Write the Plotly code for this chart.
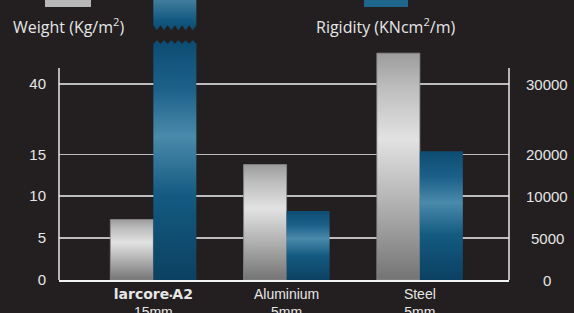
import plotly.graph_objects as go

# ---------------- data ----------------
categories = ["larcore A2 15mm", "Aluminium 5mm", "Steel 5mm"]
category_labels = [
    "<span style='font-family:DejaVu Sans;font-weight:bold'>larcore</span>"
    "<span style='font-size:9px'>\u2022</span>"
    "<span style='font-family:DejaVu Sans;font-weight:bold'>A2</span><br>15mm",
    "Aluminium<br>5mm",
    "Steel<br>5mm",
]
weight = [7.2, 13.8, 50.9]            # Kg/m2 (left axis)
rigidity = [36200, 8200, 20500]       # KNcm2/m (right axis), first bar is broken (off scale)
rigidity_broken = [True, False, False]
weight_ticks = [0, 5, 10, 15, 40]
rigidity_ticks = [0, 5000, 10000, 20000, 30000]

# ---------------- broken (piecewise) scale ----------------
tick_levels = [0, 42, 84, 125.3, 196]   # display position of each tick (axis is not linear)
Y_TOP = 280                              # top of display range
X_RANGE = [-0.708, 2.669]


def to_display(v, ticks):
    for i in range(1, len(ticks)):
        if v <= ticks[i] or i == len(ticks) - 1:
            a, b = ticks[i - 1], ticks[i]
            ya, yb = tick_levels[i - 1], tick_levels[i]
            return ya + (v - a) * (yb - ya) / (b - a)


# helpers converting pixel positions to paper coords
def px(X):
    return (X - 59) / 450


def py(Y):
    return (280 - Y) / Y_TOP


BG = "#231f20"
TXT = "#e6e6e6"
HALF = 0.3227
silver_scale = [[0, "#747474"], [0.35, "#b4b4b4"], [0.62, "#e2e2e2"], [0.85, "#bdbdbd"], [1, "#9c9c9c"]]
blue_scale = [[0, "#0b4162"], [0.35, "#145a80"], [0.6, "#4a8aab"], [0.8, "#1c6088"], [1, "#0d4c72"]]


def zigzag(x0, x1, y_valley, y_tip, n=6):
    xs, ys = [], []
    for j in range(2 * n + 1):
        xs.append(x0 + (x1 - x0) * j / (2 * n))
        ys.append(y_valley if j % 2 == 0 else y_tip)
    return xs, ys


fig = go.Figure()

for i, cat in enumerate(categories):
    # weight bar (silver, left of centre)
    h = to_display(weight[i], weight_ticks)
    x0, x1 = i - HALF, i
    fig.add_trace(go.Scatter(
        x=[x0, x0, x1, x1, x0], y=[0, h, h, 0, 0], mode="lines", fill="toself",
        line=dict(color="#8c8c8c", width=0.8),
        fillgradient=dict(type="vertical", colorscale=silver_scale, start=0, stop=h),
        name="Weight (Kg/m²)", showlegend=False, hoverinfo="skip"))

    # rigidity bar (blue, right of centre)
    h = to_display(rigidity[i], rigidity_ticks)
    x0, x1 = i, i + HALF
    if rigidity_broken[i]:
        zx, zy = zigzag(x0, x1, h - 3.5, h)
        xs = [x0] + zx + [x1, x0]
        ys = [0] + zy + [0, 0]
        fig.add_trace(go.Scatter(
            x=xs, y=ys, mode="lines", fill="toself", line=dict(width=0),
            fillgradient=dict(type="vertical", colorscale=blue_scale, start=0, stop=h),
            showlegend=False, hoverinfo="skip"))
        # upper part of the broken bar
        lo = h + 10
        zx, zy = zigzag(x0, x1, lo + 5, lo, n=6)
        xs = [x0, x0, x1, x1] + zx[::-1]
        ys = [lo + 5, Y_TOP + 10, Y_TOP + 10, lo + 5] + zy[::-1]
        fig.add_trace(go.Scatter(
            x=xs, y=ys, mode="lines", fill="toself", line=dict(width=0),
            fillgradient=dict(type="vertical",
                              colorscale=[[0, "#0d4b70"], [0.3, "#145a80"], [1, "#4a84a4"]],
                              start=lo, stop=Y_TOP + 4),
            showlegend=False, hoverinfo="skip"))
    else:
        fig.add_trace(go.Scatter(
            x=[x0, x0, x1, x1, x0], y=[0, h, h, 0, 0], mode="lines", fill="toself",
            line=dict(width=0),
            fillgradient=dict(type="vertical", colorscale=blue_scale, start=0, stop=h),
            name="Rigidity (KNcm²/m)", showlegend=False, hoverinfo="skip"))

# axis lines (left / right) which stop above the top tick
axis_top = 212
shapes = [
    dict(type="line", xref="paper", yref="y", x0=0, x1=0, y0=0, y1=axis_top,
         line=dict(color="#e8e8e8", width=1.5)),
    dict(type="line", xref="paper", yref="y", x0=1, x1=1, y0=0, y1=axis_top,
         line=dict(color="#e8e8e8", width=1.5)),
    # legend swatches (cropped at the top)
    dict(type="rect", xref="paper", yref="paper", x0=px(45), x1=px(91), y0=py(7), y1=py(-5),
         fillcolor="#b8b8b8", line=dict(width=0)),
    dict(type="rect", xref="paper", yref="paper", x0=px(364), x1=px(408), y0=py(7), y1=py(-5),
         fillcolor="#1f668d", line=dict(width=0)),
]

annotations = [
    dict(text="Weight (Kg/m<sup>2</sup>)", xref="paper", yref="paper",
         x=px(68), y=py(26), showarrow=False, xanchor="center", yanchor="middle",
         font=dict(family="Open Sans", size=16, color=TXT)),
    dict(text="Rigidity (KNcm<sup>2</sup>/m)", xref="paper", yref="paper",
         x=px(385), y=py(26), showarrow=False, xanchor="center", yanchor="middle",
         font=dict(family="Open Sans", size=16, color=TXT)),
]
for t, lv in zip(rigidity_ticks, tick_levels):
    annotations.append(dict(text=str(t), xref="paper", yref="y", x=px(547), y=lv,
                            showarrow=False, xanchor="center", yanchor="middle",
                            font=dict(family="Liberation Sans", size=15, color=TXT)))

fig.update_layout(
    width=574, height=313,
    margin=dict(l=59, r=65, t=0, b=33, autoexpand=False),
    paper_bgcolor=BG, plot_bgcolor=BG,
    showlegend=False, hovermode=False,
    shapes=shapes, annotations=annotations,
    xaxis=dict(range=X_RANGE, tickvals=[0, 1, 2], ticktext=category_labels,
               showgrid=False, zeroline=False, showline=True, linecolor="#f2f2f2", linewidth=2,
               ticks="", automargin=False,
               tickfont=dict(family="Liberation Sans", size=14, color=TXT)),
    yaxis=dict(range=[0, Y_TOP], tickvals=tick_levels, ticktext=[str(t) for t in weight_ticks],
               showgrid=True, gridcolor="#bcbcbc", gridwidth=1.5, zeroline=False, showline=False,
               ticks="", ticklabelstandoff=12, automargin=False,
               tickfont=dict(family="Liberation Sans", size=15, color=TXT)),
)

# remove the default page margin so the 574x313 figure fills the window exactly
fig.write_html("out.html", config={"displayModeBar": False, "staticPlot": True},
               post_script="document.body.style.margin='0px';")
